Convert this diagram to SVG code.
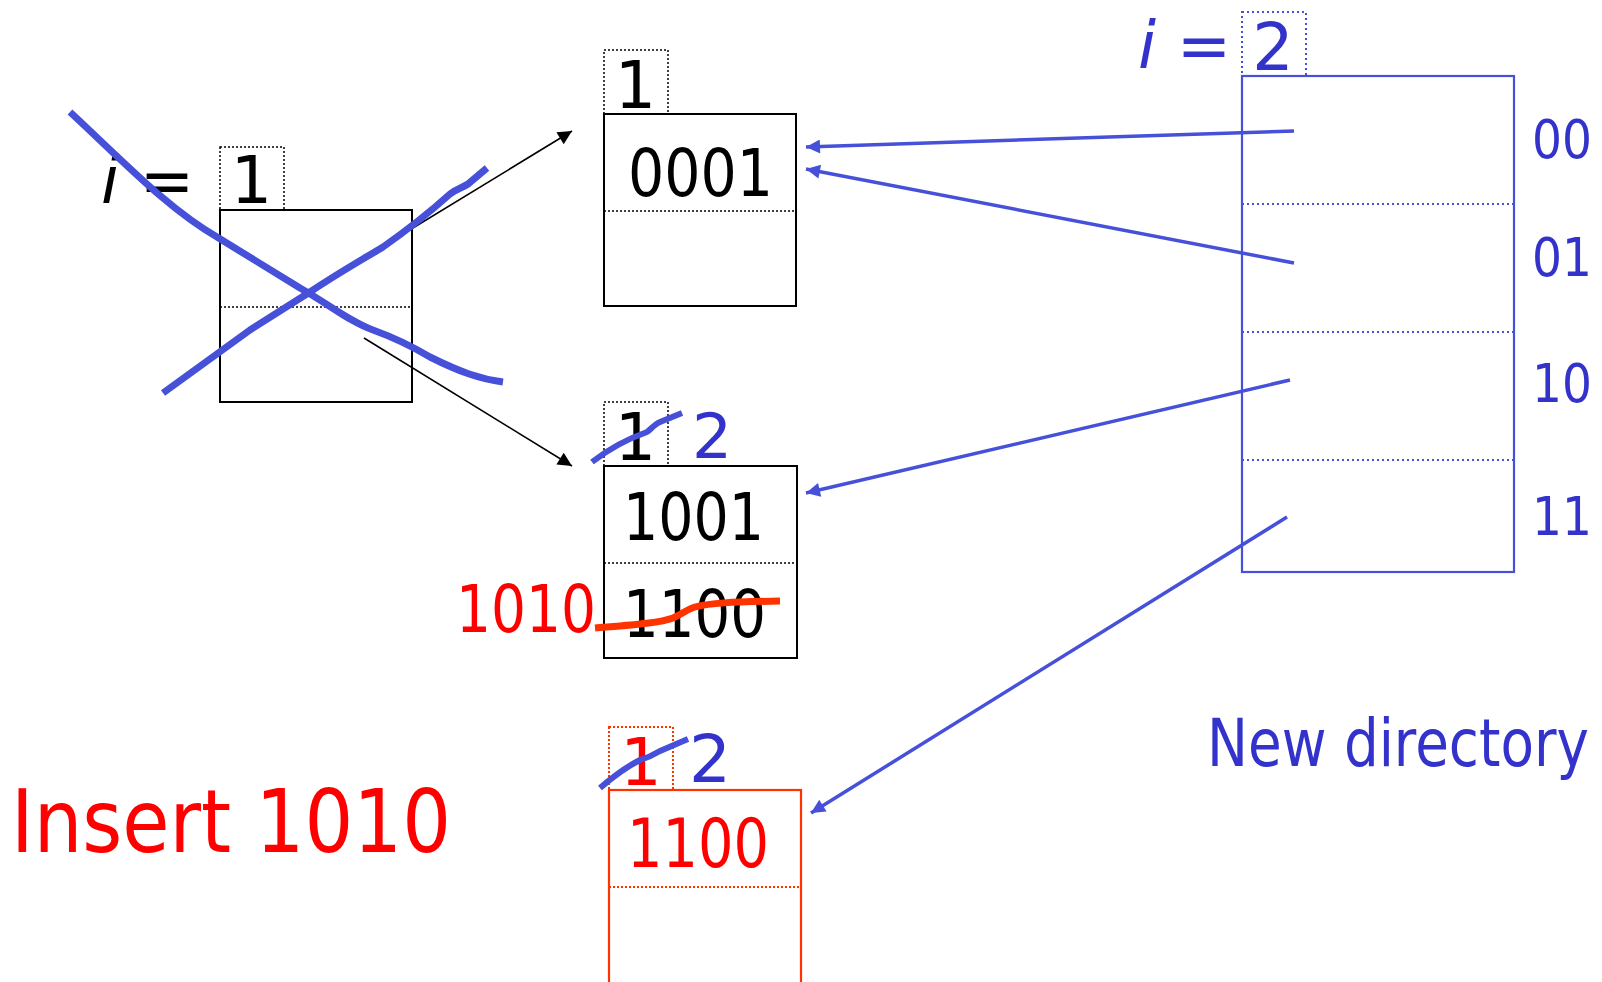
<svg xmlns="http://www.w3.org/2000/svg" width="1602" height="982" viewBox="0 0 1602 982">
<style>
  .txt{font-family:"DejaVu Sans","Liberation Sans",sans-serif;}
  .box{fill:none;stroke:#000;stroke-width:2;}
  .dot{fill:none;stroke:#000;stroke-width:1.5;stroke-dasharray:2 2;}
  .bbox{fill:none;stroke:#4650D8;stroke-width:2.2;}
  .bdot{fill:none;stroke:#4650D8;stroke-width:2;stroke-dasharray:2 3;}
  .rbox{fill:none;stroke:#FF3300;stroke-width:2.2;}
  .rdot{fill:none;stroke:#FF3300;stroke-width:2;stroke-dasharray:2 2;}
  .blk{fill:#000;}
  .blue{fill:#3333CC;}
  .red{fill:#FF0000;}
  .ptr{fill:none;stroke:#4650D8;stroke-width:3.5;marker-end:url(#ab);}
  .karr{fill:none;stroke:#000;stroke-width:1.6;marker-end:url(#ak);}
  .cross{fill:none;stroke:#4650D8;stroke-width:7;stroke-linecap:butt;stroke-linejoin:round;}
  .bstrike{fill:none;stroke:#4650D8;stroke-width:6;stroke-linejoin:round;}
  .rstrike{fill:none;stroke:#FF3300;stroke-width:7;stroke-linejoin:round;}
</style>
<defs>
  <marker id="ab" viewBox="0 0 10 10" refX="10" refY="5" markerWidth="22" markerHeight="14" markerUnits="userSpaceOnUse" orient="auto">
    <path d="M0,0 L10,5 L0,10 z" fill="#4650D8"/>
  </marker>
  <marker id="ak" viewBox="0 0 10 10" refX="10" refY="5" markerWidth="20" markerHeight="14" markerUnits="userSpaceOnUse" orient="auto">
    <path d="M0,0 L10,5 L0,10 z" fill="#000"/>
  </marker>
</defs>
<rect width="1602" height="982" fill="#fff"/>

<g id="old-bucket">
  <text class="txt blk" x="101" y="203" font-size="65"><tspan font-style="italic">i</tspan> =</text>
  <rect class="dot" x="220" y="147" width="64" height="63"/>
  <text class="txt blk" x="251.5" y="203" font-size="65" text-anchor="middle">1</text>
  <rect class="box" x="220" y="210" width="192" height="192"/>
  <line class="dot" x1="220" y1="307" x2="412" y2="307"/>
</g>

<g id="bucket-0">
  <rect class="dot" x="604" y="50" width="64" height="64"/>
  <text class="txt blk" x="635.5" y="108" font-size="65" text-anchor="middle">1</text>
  <rect class="box" x="604" y="114" width="192" height="192"/>
  <line class="dot" x1="604" y1="211" x2="796" y2="211"/>
  <text class="txt blk" x="628" y="196" font-size="65" textLength="145" lengthAdjust="spacingAndGlyphs">0001</text>
</g>

<g id="bucket-1">
  <rect class="dot" x="604" y="402" width="64" height="64"/>
  <text class="txt blk" x="635.5" y="460" font-size="65" text-anchor="middle">1</text>
  <text class="txt blue" x="712" y="458" font-size="63" text-anchor="middle">2</text>
  <rect class="box" x="604" y="466" width="193" height="192"/>
  <line class="dot" x1="604" y1="563" x2="797" y2="563"/>
  <text class="txt blk" x="623" y="540" font-size="65" textLength="141" lengthAdjust="spacingAndGlyphs">1001</text>
  <text class="txt blk" x="623" y="637" font-size="65" textLength="143" lengthAdjust="spacingAndGlyphs">1100</text>
  <text class="txt red" x="456" y="632" font-size="65" textLength="140" lengthAdjust="spacingAndGlyphs">1010</text>
</g>

<g id="bucket-new">
  <rect class="rdot" x="609" y="727" width="64" height="63"/>
  <text class="txt red" x="641" y="785" font-size="65" text-anchor="middle">1</text>
  <text class="txt blue" x="710" y="782" font-size="66" text-anchor="middle">2</text>
  <rect class="rbox" x="609" y="790" width="192" height="200"/>
  <line class="rdot" x1="609" y1="887" x2="801" y2="887"/>
  <text class="txt red" x="627" y="867" font-size="67" textLength="142" lengthAdjust="spacingAndGlyphs">1100</text>
</g>

<g id="directory">
  <text class="txt blue" x="1138" y="68" font-size="65"><tspan font-style="italic">i</tspan> =</text>
  <rect class="bdot" x="1242" y="12" width="64" height="64"/>
  <text class="txt blue" x="1273" y="70" font-size="65" text-anchor="middle">2</text>
  <rect class="bbox" x="1242" y="76" width="272" height="496"/>
  <line class="bdot" x1="1242" y1="204" x2="1514" y2="204"/>
  <line class="bdot" x1="1242" y1="332" x2="1514" y2="332"/>
  <line class="bdot" x1="1242" y1="460" x2="1514" y2="460"/>
  <text class="txt blue" x="1532" y="158" font-size="53.5" textLength="60" lengthAdjust="spacingAndGlyphs">00</text>
  <text class="txt blue" x="1532" y="276" font-size="53.5" textLength="60" lengthAdjust="spacingAndGlyphs">01</text>
  <text class="txt blue" x="1532" y="402" font-size="53.5" textLength="60" lengthAdjust="spacingAndGlyphs">10</text>
  <text class="txt blue" x="1532" y="535" font-size="53.5" textLength="60" lengthAdjust="spacingAndGlyphs">11</text>
  <text class="txt blue" transform="translate(1207,766) scale(0.83,1)" x="0" y="0" font-size="66">New directory</text>
</g>

<g id="title">
  <text class="txt red" x="11" y="852" font-size="88" textLength="440" lengthAdjust="spacingAndGlyphs">Insert 1010</text>
</g>

<g id="connectors">
  <line class="karr" x1="390" y1="242" x2="572" y2="131"/>
  <line class="karr" x1="364" y1="338" x2="572" y2="466"/>
  <line class="ptr" x1="1294" y1="131" x2="806" y2="147"/>
  <line class="ptr" x1="1294" y1="263" x2="806" y2="169"/>
  <line class="ptr" x1="1290" y1="380" x2="806" y2="493"/>
  <line class="ptr" x1="1287" y1="517" x2="811" y2="813"/>
</g>

<g id="strikes">
  <path class="cross" d="M70,112 C130,168 170,210 217,237 L300,288 C330,305 350,322 373,330 C395,338 410,345 430,357 C460,372 480,379 503,382"/>
  <path class="cross" d="M163,393 L250,330 L310,292 C340,272 365,258 383,247 C410,228 430,212 450,194 C458,188 462,188 468,184 L487,168"/>
  <path class="bstrike" d="M592,462 C610,448 630,438 647,432 C652,428 655,424 660,422 L682,413"/>
  <path class="bstrike" d="M600,788 C615,775 630,765 640,760 C650,757 655,754 660,751 L688,739"/>
  <path class="rstrike" d="M595,628 C630,625 660,623 673,618 C682,614 688,609 695,607 C710,603 730,602 780,601"/>
</g>
</svg>
